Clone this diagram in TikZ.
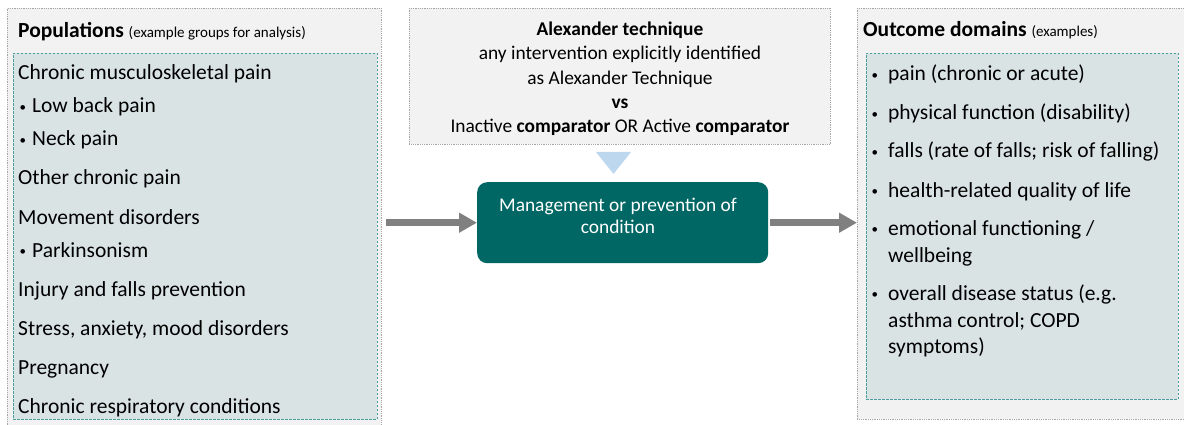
\documentclass[tikz,border=0pt]{standalone}
\usepackage{fontspec}
\setmainfont{Carlito}
\usetikzlibrary{positioning, arrows.meta}

\definecolor{boxgray}{HTML}{F2F2F2}
\definecolor{linegray}{HTML}{A6A6A6}
\definecolor{listblue}{HTML}{DAE3E4}
\definecolor{dashteal}{HTML}{4A9E9C}
\definecolor{mgmtgreen}{RGB}{0,103,100}
\definecolor{arrowgray}{HTML}{808080}
\definecolor{tipblue}{HTML}{BDD7EE}

\tikzset{
  outerbox/.style={rectangle, draw=linegray, densely dotted, line width=0.8pt, fill=boxgray, anchor=north west, inner sep=0pt},
  innerbox/.style={rectangle, draw=dashteal, dash pattern=on 2.5pt off 1.5pt, line width=0.9pt, fill=listblue, anchor=north west, inner sep=0pt},
  listtext/.style={anchor=base west, inner sep=0pt, font=\fontsize{21.5}{26}\selectfont},
  smallnote/.style={font=\fontsize{15}{18}\selectfont},
  flowarrow/.style={draw=arrowgray, line width=6.5pt, -{Triangle[length=18pt,width=19pt]}},
}
\newcommand{\bul}[1]{\makebox[#1][l]{\hspace{1.5pt}\raisebox{1.8pt}{\fontsize{13}{13}\selectfont •}}}

\begin{document}
\begin{tikzpicture}[x=1pt, y=-1pt]
  \useasboundingbox (0,0) rectangle (1184,425);

  % populations
  \node[outerbox, minimum width=374pt, minimum height=420pt] (popouter) at (7,8) {};
  \node[innerbox, minimum width=364pt, minimum height=366pt] (popinner) at (13,53) {};
  \node[listtext] (poptitle) at (18,38) {\textbf{Populations} {\fontsize{15}{18}\selectfont (example groups for analysis)}};
  \node[listtext] (pop1) at (18,80) {Chronic musculoskeletal pain};
  \node[listtext] (pop2) at (18,113) {\bul{14pt}Low back pain};
  \node[listtext] (pop3) at (18,146) {\bul{14pt}Neck pain};
  \node[listtext] (pop4) at (18,185) {Other chronic pain};
  \node[listtext] (pop5) at (18,224) {Movement disorders};
  \node[listtext] (pop6) at (18,257) {\bul{14pt}Parkinsonism};
  \node[listtext] (pop7) at (18,296) {Injury and falls prevention};
  \node[listtext] (pop8) at (18,335) {Stress, anxiety, mood disorders};
  \node[listtext] (pop9) at (18,374) {Pregnancy};
  \node[listtext] (pop10) at (18,413) {Chronic respiratory conditions};

  % intervention
  \node[outerbox, minimum width=421pt, minimum height=136pt] (interv) at (409,8) {};
  \node[align=center, inner sep=0pt, font=\fontsize{19.4}{24.3}\selectfont] (intervtext) at (620,79)
    {\textbf{Alexander technique}\\any intervention explicitly identified\\as Alexander Technique\\\textbf{vs}\\Inactive \textbf{comparator} OR Active \textbf{comparator}};
  \fill[tipblue] (596,152) -- (631,152) -- (613.5,174) -- cycle;

  \node[rectangle, rounded corners=10pt, fill=mgmtgreen, anchor=north west, minimum width=291pt, minimum height=81pt] (mgmt) at (477,182) {};
  \node[align=center, inner sep=0pt, text=white, font=\fontsize{19.4}{22}\selectfont] (mgmttext) at (618,216)
    {Management or prevention of\\condition};

  % outcomes
  \node[outerbox, minimum width=333pt, minimum height=411pt] (outouter) at (857,8) {};
  \node[innerbox, minimum width=312pt, minimum height=346pt] (outinner) at (866,53) {};
  \node[listtext] (outtitle) at (863,37) {\textbf{Outcome domains} {\fontsize{15}{18}\selectfont (examples)}};
  \node[listtext] (out1) at (870,81) {\bul{18pt}pain (chronic or acute)};
  \node[listtext] (out2) at (870,120) {\bul{18pt}physical function (disability)};
  \node[listtext] (out3) at (870,158) {\bul{18pt}falls (rate of falls; risk of falling)};
  \node[listtext] (out4) at (870,197) {\bul{18pt}health-related quality of life};
  \node[listtext] (out5) at (870,235) {\bul{18pt}emotional functioning /};
  \node[listtext] (out5b) at (888,262) {wellbeing};
  \node[listtext] (out6) at (870,300) {\bul{18pt}overall disease status (e.g.};
  \node[listtext] (out6b) at (888,327) {asthma control; COPD};
  \node[listtext] (out6c) at (888,353) {symptoms)};

  \draw[flowarrow] ([xshift=4pt]popouter.east |- mgmt.west) -- (mgmt.west);
  \draw[flowarrow] ([xshift=2pt]mgmt.east) -- (outouter.west |- mgmt.east);
\end{tikzpicture}
\end{document}
